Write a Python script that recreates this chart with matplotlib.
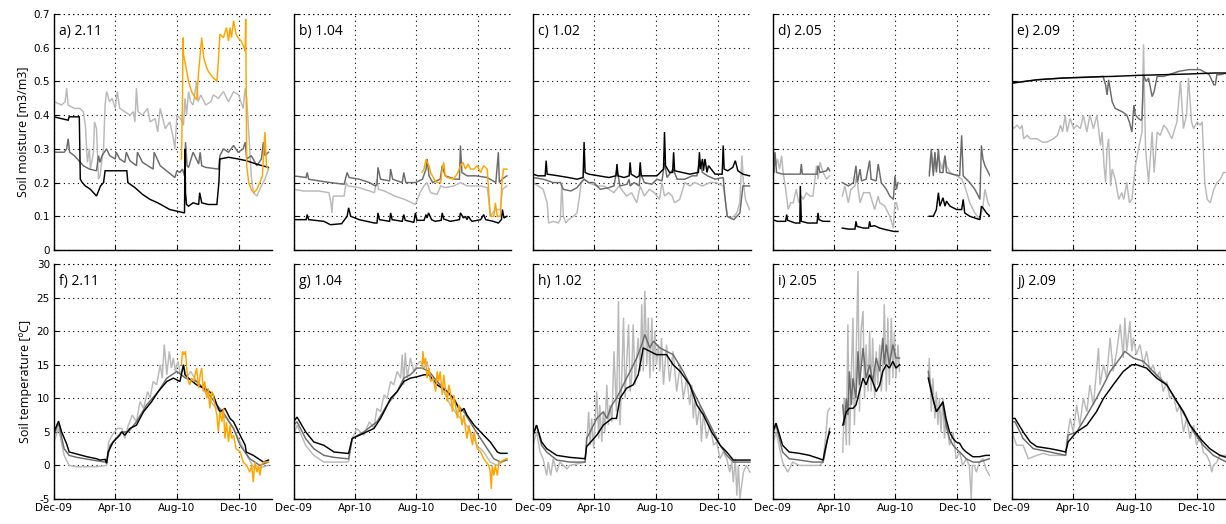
import numpy as np
import matplotlib
matplotlib.use("Agg")
import matplotlib.pyplot as plt

nan = np.nan

# x values are days since 1 Dec 2009
xtick_days = [0, 121, 243, 365]
xtick_labels = ["Dec-09", "Apr-10", "Aug-10", "Dec-10"]
moist_ticks = [0, 0.1, 0.2, 0.3, 0.4, 0.5, 0.6, 0.7]
temp_ticks = [-5, 0, 5, 10, 15, 20, 25, 30]
moist_titles = ["a) 2.11", "b) 1.04", "c) 1.02", "d) 2.05", "e) 2.09"]
temp_titles = ["f) 2.11", "g) 1.04", "h) 1.02", "i) 2.05", "j) 2.09"]

# ---------------- soil moisture ----------------
a_black_d = [0, 28, 30, 50, 52, 56, 62, 72, 84, 92, 98, 101, 144, 146, 160, 175, 190, 205, 229, 258, 259, 260, 262, 266, 275, 286, 288, 292, 305, 322, 326, 328, 345, 364, 380, 400, 424]
a_black_v = [0.395, 0.385, 0.395, 0.395, 0.21, 0.2, 0.19, 0.18, 0.16, 0.19, 0.2, 0.235, 0.235, 0.2, 0.185, 0.165, 0.15, 0.14, 0.12, 0.11, 0.3, 0.17, 0.135, 0.13, 0.14, 0.135, 0.17, 0.14, 0.135, 0.135, 0.2, 0.27, 0.275, 0.27, 0.265, 0.255, 0.245]
a_dgray_d = [0, 20, 25, 28, 31, 40, 58, 70, 84, 88, 91, 95, 104, 110, 121, 123, 130, 140, 143, 150, 163, 165, 175, 196, 198, 210, 239, 243, 249, 254, 258, 260, 263, 266, 275, 286, 289, 292, 300, 325, 328, 335, 345, 355, 364, 374, 378, 381, 390, 401, 410, 414, 417, 424]
a_dgray_v = [0.29, 0.29, 0.3, 0.33, 0.29, 0.28, 0.25, 0.24, 0.235, 0.28, 0.26, 0.28, 0.3, 0.28, 0.27, 0.29, 0.27, 0.26, 0.29, 0.265, 0.25, 0.29, 0.26, 0.24, 0.29, 0.25, 0.215, 0.235, 0.23, 0.24, 0.22, 0.32, 0.25, 0.245, 0.29, 0.255, 0.29, 0.25, 0.245, 0.24, 0.28, 0.3, 0.29, 0.31, 0.29, 0.3, 0.32, 0.27, 0.28, 0.25, 0.27, 0.32, 0.28, 0.29]
a_lgray_d = [0, 15, 22, 25, 28, 40, 51, 58, 62, 66, 70, 72, 78, 80, 84, 88, 91, 94, 98, 101, 104, 110, 115, 121, 125, 130, 140, 150, 157, 160, 163, 166, 175, 185, 190, 200, 205, 210, 220, 229, 236, 239, 243, 250, 256, 259, 262, 266, 270, 275, 282, 285, 290, 300, 310, 315, 325, 335, 345, 355, 365, 374, 378, 381, 385, 390, 394, 401, 410, 417, 424]
a_lgray_v = [0.44, 0.43, 0.44, 0.48, 0.43, 0.42, 0.42, 0.41, 0.37, 0.26, 0.3, 0.24, 0.29, 0.38, 0.36, 0.21, 0.22, 0.26, 0.3, 0.43, 0.47, 0.44, 0.45, 0.42, 0.47, 0.42, 0.41, 0.4, 0.41, 0.38, 0.48, 0.41, 0.4, 0.42, 0.38, 0.39, 0.35, 0.42, 0.36, 0.38, 0.33, 0.30, 0.40, 0.39, 0.37, 0.45, 0.40, 0.47, 0.44, 0.43, 0.50, 0.44, 0.46, 0.43, 0.44, 0.46, 0.45, 0.47, 0.44, 0.47, 0.46, 0.42, 0.48, 0.45, 0.35, 0.22, 0.17, 0.16, 0.19, 0.21, 0.24]
a_orange_d = [252, 254, 255, 256, 260, 266, 272, 276, 282, 286, 289, 292, 296, 302, 305, 310, 315, 320, 322, 325, 328, 335, 341, 345, 348, 351, 355, 360, 364, 370, 376, 378, 379, 381, 385, 390, 395, 401, 407, 412, 417, 420, 424]
a_orange_v = [0.27, 0.45, 0.63, 0.58, 0.55, 0.5, 0.47, 0.46, 0.445, 0.53, 0.58, 0.63, 0.57, 0.54, 0.53, 0.52, 0.51, 0.505, 0.50, 0.56, 0.64, 0.63, 0.66, 0.62, 0.66, 0.63, 0.68, 0.64, 0.63, 0.62, 0.60, 0.59, 0.685, 0.25, 0.2, 0.18, 0.17, 0.18, 0.2, 0.22, 0.35, 0.25, 0.24]

b_black_d = [0, 25, 27, 30, 60, 73, 95, 106, 109, 113, 130, 160, 165, 167, 170, 190, 192, 195, 215, 218, 221, 238, 241, 244, 258, 262, 264, 267, 273, 280, 292, 294, 297, 310, 328, 330, 336, 340, 343, 346, 350, 353, 370, 374, 376, 380, 395, 405, 411, 413, 416, 422]
b_black_v = [0.09, 0.09, 0.105, 0.09, 0.085, 0.075, 0.078, 0.1, 0.125, 0.1, 0.09, 0.08, 0.08, 0.11, 0.09, 0.085, 0.11, 0.09, 0.085, 0.105, 0.088, 0.082, 0.11, 0.088, 0.088, 0.105, 0.095, 0.11, 0.09, 0.085, 0.088, 0.11, 0.092, 0.085, 0.09, 0.11, 0.095, 0.1, 0.09, 0.1, 0.09, 0.085, 0.09, 0.1, 0.105, 0.09, 0.085, 0.08, 0.09, 0.12, 0.095, 0.1]
b_dgray_d = [0, 25, 27, 30, 50, 73, 100, 106, 110, 130, 150, 162, 165, 167, 172, 190, 192, 196, 215, 218, 222, 241, 255, 262, 264, 268, 275, 290, 294, 300, 320, 328, 330, 333, 343, 360, 383, 400, 405, 407, 412, 422]
b_dgray_v = [0.22, 0.215, 0.23, 0.21, 0.205, 0.2, 0.195, 0.23, 0.215, 0.21, 0.2, 0.19, 0.195, 0.245, 0.21, 0.205, 0.24, 0.21, 0.2, 0.23, 0.2, 0.2, 0.21, 0.24, 0.27, 0.22, 0.2, 0.21, 0.25, 0.22, 0.21, 0.21, 0.31, 0.23, 0.22, 0.22, 0.215, 0.2, 0.29, 0.2, 0.21, 0.22]
b_lgray_d = [0, 20, 50, 70, 74, 76, 78, 80, 100, 104, 108, 130, 160, 165, 168, 180, 200, 220, 241, 250, 258, 264, 271, 284, 291, 300, 317, 330, 343, 357, 370, 383, 386, 389, 399, 409, 413, 422]
b_lgray_v = [0.18, 0.175, 0.175, 0.17, 0.14, 0.11, 0.155, 0.16, 0.16, 0.2, 0.19, 0.185, 0.17, 0.21, 0.18, 0.175, 0.16, 0.15, 0.135, 0.17, 0.19, 0.2, 0.17, 0.165, 0.19, 0.185, 0.19, 0.2, 0.19, 0.19, 0.19, 0.185, 0.15, 0.1, 0.12, 0.12, 0.18, 0.19]
b_orange_d = [254, 258, 262, 264, 268, 271, 278, 284, 291, 294, 297, 300, 304, 317, 325, 330, 335, 340, 345, 350, 357, 363, 370, 373, 376, 383, 386, 389, 396, 399, 403, 409, 412, 415, 422]
b_orange_v = [0.23, 0.24, 0.27, 0.26, 0.25, 0.23, 0.21, 0.2, 0.2, 0.24, 0.26, 0.22, 0.215, 0.21, 0.23, 0.25, 0.26, 0.24, 0.255, 0.24, 0.24, 0.25, 0.23, 0.24, 0.25, 0.24, 0.17, 0.1, 0.1, 0.14, 0.1, 0.1, 0.2, 0.24, 0.24]

c_black_d = [0, 10, 24, 26, 28, 50, 70, 87, 99, 101, 103, 110, 130, 150, 164, 166, 168, 180, 190, 192, 194, 205, 210, 212, 214, 230, 245, 258, 260, 262, 270, 276, 278, 280, 295, 310, 327, 329, 331, 335, 337, 340, 344, 347, 360, 374, 376, 378, 385, 395, 400, 405, 415, 428]
c_black_v = [0.225, 0.22, 0.22, 0.265, 0.225, 0.22, 0.215, 0.21, 0.215, 0.32, 0.23, 0.225, 0.22, 0.215, 0.22, 0.255, 0.22, 0.215, 0.22, 0.26, 0.225, 0.215, 0.22, 0.26, 0.22, 0.22, 0.22, 0.24, 0.35, 0.25, 0.23, 0.23, 0.29, 0.235, 0.23, 0.225, 0.23, 0.29, 0.24, 0.27, 0.235, 0.27, 0.23, 0.25, 0.225, 0.225, 0.31, 0.24, 0.235, 0.245, 0.265, 0.235, 0.225, 0.22]
c_dgray_d = [0, 20, 40, 54, 60, 75, 87, 95, 101, 110, 120, 133, 150, 160, 166, 172, 186, 190, 192, 200, 210, 212, 220, 235, 245, 255, 260, 265, 277, 285, 300, 315, 324, 329, 335, 345, 360, 376, 380, 384, 390, 397, 403, 409, 415, 428]
c_dgray_v = [0.215, 0.21, 0.2, 0.2, 0.18, 0.175, 0.185, 0.2, 0.21, 0.2, 0.2, 0.18, 0.185, 0.19, 0.24, 0.19, 0.195, 0.21, 0.19, 0.2, 0.19, 0.23, 0.2, 0.195, 0.21, 0.205, 0.26, 0.215, 0.24, 0.21, 0.21, 0.22, 0.22, 0.27, 0.23, 0.22, 0.21, 0.215, 0.15, 0.1, 0.095, 0.09, 0.1, 0.11, 0.19, 0.19]
c_lgray_d = [0, 10, 20, 28, 31, 40, 50, 54, 57, 60, 65, 70, 80, 87, 92, 95, 101, 110, 125, 140, 150, 160, 170, 185, 195, 205, 212, 220, 230, 240, 250, 255, 260, 268, 275, 280, 290, 300, 310, 320, 335, 350, 363, 376, 380, 384, 390, 397, 403, 409, 413, 416, 420, 428]
c_lgray_v = [0.2, 0.19, 0.18, 0.14, 0.08, 0.085, 0.08, 0.09, 0.2, 0.1, 0.08, 0.09, 0.1, 0.11, 0.16, 0.2, 0.21, 0.2, 0.19, 0.19, 0.18, 0.17, 0.19, 0.16, 0.17, 0.14, 0.19, 0.16, 0.18, 0.17, 0.15, 0.2, 0.16, 0.17, 0.16, 0.14, 0.15, 0.2, 0.19, 0.2, 0.19, 0.2, 0.2, 0.19, 0.15, 0.1, 0.095, 0.1, 0.11, 0.14, 0.28, 0.2, 0.15, 0.12]

d_black_d = [0, 10, 26, 28, 30, 45, 54, 55, 57, 70, 88, 90, 92, 100, 113, nan, 138, 150, 163, 165, 167, 180, 190, 192, 194, 202, 212, 225, 240, 248, nan, 310, 318, 324, 328, 331, 337, 341, 344, 351, 364, 374, 377, 380, 390, 400, 410, 413, 416, 423, 430]
d_black_v = [0.09, 0.085, 0.085, 0.105, 0.088, 0.08, 0.08, 0.19, 0.085, 0.08, 0.08, 0.11, 0.09, 0.085, 0.085, nan, 0.065, 0.062, 0.062, 0.085, 0.07, 0.065, 0.065, 0.085, 0.07, 0.072, 0.065, 0.06, 0.055, 0.055, nan, 0.1, 0.1, 0.12, 0.17, 0.13, 0.155, 0.13, 0.145, 0.13, 0.12, 0.12, 0.15, 0.11, 0.1, 0.095, 0.09, 0.13, 0.125, 0.11, 0.1]
d_dgray_d = [0, 3, 5, 8, 20, 55, 57, 59, 88, 90, 94, 107, 110, 113, nan, 138, 150, 160, 165, 168, 173, 176, 185, 192, 195, 205, 209, 215, 225, 232, 239, 242, 245, 248, nan, 310, 314, 318, 321, 324, 328, 331, 337, 341, 344, 355, 370, 374, 377, 380, 390, 400, 407, 410, 413, 416, 420, 430]
d_dgray_v = [0.23, 0.23, 0.29, 0.23, 0.225, 0.225, 0.255, 0.225, 0.225, 0.25, 0.23, 0.235, 0.245, 0.235, nan, 0.2, 0.19, 0.2, 0.25, 0.2, 0.24, 0.205, 0.21, 0.265, 0.21, 0.205, 0.255, 0.2, 0.18, 0.16, 0.15, 0.22, 0.18, 0.2, nan, 0.22, 0.3, 0.22, 0.29, 0.23, 0.3, 0.23, 0.23, 0.28, 0.23, 0.225, 0.22, 0.34, 0.22, 0.215, 0.2, 0.18, 0.16, 0.15, 0.31, 0.27, 0.25, 0.22]
d_lgray_d = [0, 2, 4, 6, 10, 14, 18, 21, 26, 31, 36, 41, 47, 52, 57, 61, 67, 74, 80, 87, 90, 94, 100, 107, 113, nan, 138, 143, 150, 155, 163, 166, 173, 180, 192, 202, 209, 212, 222, 232, 236, 239, 242, 245, 248, nan, 310, 313, 318, 321, 324, 328, 335, 341, 344, 351, 364, 374, 380, 390, 400, 405, 410, 416, 420, 426, 430]
d_lgray_v = [0.28, 0.24, 0.29, 0.25, 0.27, 0.24, 0.28, 0.23, 0.18, 0.12, 0.14, 0.14, 0.18, 0.14, 0.16, 0.15, 0.17, 0.16, 0.16, 0.25, 0.21, 0.26, 0.23, 0.21, 0.22, nan, 0.16, 0.19, 0.14, 0.18, 0.19, 0.22, 0.14, 0.17, 0.17, 0.12, 0.16, 0.14, 0.13, 0.1, 0.08, 0.065, 0.14, 0.14, 0.12, nan, 0.23, 0.28, 0.23, 0.29, 0.24, 0.28, 0.24, 0.28, 0.25, 0.23, 0.22, 0.21, 0.19, 0.14, 0.11, 0.1, 0.09, 0.13, 0.18, 0.14, 0.13]

e_black_d = [0, 50, 100, 150, 200, 250, 300, 350, 400, 430]
e_black_v = [0.495, 0.505, 0.51, 0.513, 0.515, 0.518, 0.52, 0.522, 0.525, 0.525]
e_dgray_d = [0, 50, 100, 150, 180, 185, 188, 191, 198, 204, 211, 218, 227, 232, 237, 241, 244, 250, 255, 257, 260, 265, 270, 277, 281, 287, 300, 330, 350, 372, 390, 399, 402, 405, 412, 425]
e_dgray_v = [0.495, 0.505, 0.51, 0.512, 0.515, 0.49, 0.46, 0.505, 0.44, 0.42, 0.415, 0.41, 0.40, 0.38, 0.35, 0.43, 0.40, 0.39, 0.385, 0.39, 0.52, 0.5, 0.51, 0.455, 0.47, 0.515, 0.515, 0.53, 0.535, 0.535, 0.52, 0.49, 0.49, 0.52, 0.52, 0.525]
e_lgray_d = [0, 3, 10, 16, 20, 23, 30, 36, 49, 60, 69, 82, 90, 96, 100, 105, 109, 115, 122, 128, 135, 141, 148, 154, 161, 168, 175, 178, 182, 185, 188, 191, 195, 198, 204, 211, 217, 221, 227, 232, 237, 244, 250, 257, 260, 264, 270, 277, 281, 287, 293, 300, 306, 316, 326, 333, 339, 345, 349, 355, 359, 366, 372, 376, 381, 386, 392, 399, 405, 412, 418, 425]
e_lgray_v = [0.37, 0.36, 0.37, 0.36, 0.37, 0.33, 0.34, 0.33, 0.33, 0.32, 0.32, 0.33, 0.34, 0.37, 0.35, 0.4, 0.35, 0.39, 0.36, 0.37, 0.36, 0.4, 0.35, 0.4, 0.36, 0.4, 0.31, 0.35, 0.25, 0.2, 0.3, 0.33, 0.19, 0.24, 0.21, 0.15, 0.17, 0.15, 0.2, 0.14, 0.15, 0.25, 0.3, 0.35, 0.61, 0.3, 0.2, 0.35, 0.23, 0.35, 0.34, 0.37, 0.36, 0.33, 0.38, 0.5, 0.36, 0.4, 0.51, 0.38, 0.36, 0.38, 0.37, 0.38, 0.2, 0.15, 0.14, 0.18, 0.2, 0.21, 0.23, 0.23]

# ---------------- soil temperature ----------------
f_black_d = [0, 9, 15, 25, 30, 40, 65, 84, 91, 101, 104, 107, 117, 130, 134, 140, 150, 163, 177, 193, 206, 223, 236, 249, 256, 259, 266, 282, 302, 315, 322, 328, 338, 348, 355, 368, 378, 380, 394, 414, 424]
f_black_v = [5, 6.6, 5, 3.2, 2, 1.8, 1.3, 1.0, 0.8, 0.9, 0.3, 2, 3.5, 4.5, 5, 4.5, 5.5, 6, 8, 9.5, 11, 12.5, 13, 12.5, 15, 13.5, 13, 12, 11.3, 10.5, 9, 8, 8.5, 7, 6.5, 4.5, 3, 2, 1.5, 0.5, 0.8]
f_dgray_d = [0, 9, 20, 30, 45, 84, 101, 104, 111, 134, 147, 163, 183, 206, 223, 243, 252, 260, 282, 302, 322, 338, 355, 368, 387, 407, 424]
f_dgray_v = [4.5, 6.3, 2.5, 1.5, 1.2, 0.7, 0.5, 0.5, 3, 5, 5, 6.5, 9, 11, 13, 14, 13.5, 13, 12.5, 11, 9, 7.5, 5.5, 3, 1, 0, 0.5]
f_lgray_d = [0, 9, 20, 30, 45, 84, 104, 108, 115, 125, 134, 140, 147, 155, 163, 170, 177, 185, 190, 196, 203, 210, 214, 218, 223, 228, 232, 236, 240, 245, 250, 256, 262, 270, 282, 295, 302, 315, 328, 341, 355, 368, 381, 394, 401, 424]
f_lgray_v = [3.5, 5.5, 1.5, 0, -0.2, -0.2, 0, 3.5, 4.5, 5.5, 5.5, 4, 6, 7.5, 6.5, 9.5, 8.5, 11, 10, 12.5, 12, 15, 13, 18, 13.5, 17, 14.5, 16, 14, 15.5, 13.5, 15, 13, 14, 12.5, 11.5, 10.5, 9, 8, 7, 5.5, 3.5, 1.5, -0.2, -0.5, 0]
f_orange_d = [252, 254, 257, 260, 264, 268, 272, 276, 282, 286, 289, 292, 295, 298, 302, 305, 308, 312, 315, 318, 322, 325, 328, 332, 335, 338, 341, 345, 348, 351, 355, 360, 368, 374, 381, 387, 391, 394, 397, 401, 404, 407, 410, 414, 418, 424]
f_orange_v = [15, 17, 16.5, 17, 13, 12, 13, 12.5, 14.5, 11.5, 13.5, 14.5, 11, 12.5, 10, 11.5, 8.5, 11, 10.5, 9, 7.5, 5, 8, 6.5, 8.5, 4, 6.5, 3.5, 6, 4, 4.5, 2.5, 2, 0.5, 0, -1, 0, -2.5, 0.5, -1, 0, -1.5, 0, 0.5, 0.5, 0.5]

g_black_d = [0, 7, 24, 40, 60, 80, 106, 109, 116, 139, 159, 172, 179, 192, 205, 218, 231, 244, 258, 268, 284, 304, 317, 330, 337, 343, 357, 376, 389, 403, 409, 422]
g_black_v = [6.5, 7.2, 5, 3.5, 3, 2, 1.8, 1.8, 4, 4.8, 5.5, 7, 8, 10, 11, 12.5, 13, 13.2, 13.5, 13.5, 12, 11, 10, 8, 8.5, 7.5, 6, 4.5, 3.5, 2, 1.8, 1.8]
g_dgray_d = [0, 7, 24, 40, 60, 80, 106, 109, 116, 139, 165, 185, 205, 218, 231, 244, 254, 268, 284, 304, 324, 337, 357, 370, 383, 396, 409, 422]
g_dgray_v = [6, 6.5, 4, 2.5, 1.5, 1.2, 1, 1, 4, 5, 6.5, 9, 11, 13, 13.5, 14.5, 14.5, 14, 12.5, 11, 9, 8, 5.5, 4, 2.5, 1, 0.5, 0.8]
g_lgray_d = [0, 7, 24, 40, 60, 80, 106, 109, 116, 125, 139, 150, 159, 165, 172, 179, 185, 192, 198, 205, 212, 215, 218, 221, 225, 231, 238, 244, 251, 258, 264, 271, 284, 297, 310, 324, 337, 350, 363, 376, 389, 403, 422]
g_lgray_v = [4.5, 6, 3, 1.5, 0.5, 0.5, 0.5, 0.6, 4, 5.5, 4.5, 6.5, 5.5, 8.5, 8, 10.5, 10, 12.5, 12, 14, 13, 16.5, 12, 16.8, 13, 16, 14, 15, 15.5, 14.5, 15.5, 13, 12.5, 11, 9, 7.5, 6.5, 5, 3, 2, 0.5, 0, 1]
g_orange_d = [254, 256, 258, 261, 264, 268, 271, 276, 281, 284, 287, 290, 294, 297, 300, 304, 307, 310, 314, 317, 320, 324, 327, 330, 333, 337, 340, 343, 347, 350, 354, 357, 363, 370, 376, 381, 386, 389, 391, 393, 396, 399, 403, 406, 409, 415, 422]
g_orange_v = [14.5, 17, 15, 16, 13, 14.5, 12.5, 13, 11, 14, 12.5, 14, 10.5, 13.5, 11.5, 9.5, 12, 11, 8, 10.5, 9, 7, 9, 8, 6, 7.5, 5.5, 4, 6, 4.5, 3, 5, 2.5, 2, 1, 0.5, 0, -1, -3.5, 0, -1.5, 0, -1.5, 0.5, 0.5, 0.8, 1]

h_black_d = [0, 7, 17, 27, 47, 73, 103, 106, 126, 139, 156, 165, 172, 185, 198, 208, 218, 231, 244, 264, 277, 291, 310, 324, 337, 353, 370, 383, 396, 429]
h_black_v = [4.5, 6, 3.5, 2.5, 1.5, 1.2, 1, 2.8, 4.5, 6, 7, 7, 10, 11.5, 12, 13.5, 17.5, 17, 16.5, 16.5, 15, 14, 12, 9, 7.5, 5, 3, 2, 0.8, 0.8]
h_dgray_d = [0, 7, 17, 27, 47, 73, 103, 106, 113, 126, 139, 146, 156, 165, 172, 185, 192, 205, 215, 221, 231, 238, 251, 264, 277, 297, 317, 337, 357, 370, 383, 396, 429]
h_dgray_v = [4.5, 6, 3, 2, 0.8, 0.5, 0.5, 4, 5, 7, 8, 7, 9, 10, 11, 13, 14, 16, 18, 19.5, 17.5, 18.5, 17.5, 17, 16.5, 14, 11, 8, 5, 3, 1.5, 0.5, 0.5]
h_lgray_d = [0, 7, 14, 20, 27, 30, 35, 40, 47, 53, 60, 67, 73, 85, 103, 106, 110, 113, 116, 120, 126, 130, 132, 136, 139, 142, 146, 149, 152, 156, 160, 165, 169, 172, 175, 179, 182, 185, 189, 192, 195, 198, 202, 205, 208, 212, 215, 218, 221, 225, 228, 231, 235, 238, 241, 244, 248, 251, 254, 258, 264, 270, 277, 284, 291, 297, 304, 310, 314, 317, 320, 324, 330, 333, 337, 343, 350, 357, 363, 370, 376, 383, 389, 393, 396, 400, 403, 406, 409, 416, 422, 429]
h_lgray_v = [3, 5, 2, 1, -1.5, 0.5, -1.5, 1, -1, 0.5, 0, -0.5, 0, 0.2, 0.5, 3, 8, 3, 7, 2.5, 11, 4, 9, 3.5, 8, 5, 12, 6, 9, 6.5, 17, 8, 24.5, 6, 12, 22, 10, 15, 21, 11, 13, 21, 12, 16, 19, 14, 24, 14, 26, 15, 22, 13, 22, 14, 20, 15, 18, 14, 19, 12, 18, 12.5, 17, 11, 15, 10, 13, 9, 12, 7, 10, 6, 9, 3.5, 8, 4, 6, 3, 3.5, 1, 2, 1, -1, 0.5, -2.5, 1, -4.5, 0, -5, -1, 0, -1]

i_black_d = [0, 7, 20, 33, 53, 73, 93, 100, 103, 109, 113, nan, 139, 146, 152, 159, 165, 172, 179, 185, 192, 198, 205, 212, 218, 225, 231, 238, 244, 251, nan, 308, 310, 317, 324, 333, 337, 343, 350, 357, 363, 370, 376, 383, 396, 409, 422, 429]
i_black_v = [5, 6.3, 3, 2, 1.8, 1.5, 1, 0.8, 2, 4, 5, nan, 6, 8, 8.5, 8.5, 9, 11, 13, 12, 13.5, 12.5, 11, 12, 14, 15, 14.5, 15.5, 14.5, 15, nan, 13, 12.3, 10, 8, 9, 9.5, 7, 5, 4, 3.5, 3.3, 2.5, 2, 1.3, 1.3, 1.5, 1.5]
i_dgray_d = [0, 7, 20, 33, 53, 80, 100, 103, 109, 113, nan, 139, 142, 146, 149, 152, 156, 159, 165, 169, 172, 179, 185, 192, 198, 205, 212, 218, 221, 225, 231, 238, 244, 251, nan, 308, 310, 317, 324, 333, 337, 343, 350, 357, 363, 370, 383, 396, 409, 429]
i_dgray_v = [4.5, 6, 2, 1, 0.8, 0.5, 0.5, 1.5, 4, 5.5, nan, 9, 6, 10, 7.5, 14, 9, 13, 10, 17, 12, 17.5, 13, 15, 12.5, 16, 14, 19, 15, 18, 15, 18, 16, 16, nan, 14, 13, 10, 8, 9, 9, 6, 4, 3, 2.5, 2, 1, 0.5, 0.5, 1]
i_lgray_d = [0, 7, 20, 30, 40, 53, 73, 93, 100, 106, 109, 113, nan, 139, 142, 146, 149, 152, 156, 159, 162, 165, 169, 172, 175, 179, 182, 185, 189, 192, 195, 198, 202, 205, 208, 212, 215, 218, 221, 225, 228, 231, 235, 238, 241, 244, 248, 251, nan, 308, 310, 314, 317, 321, 324, 327, 330, 333, 337, 340, 343, 350, 357, 363, 370, 376, 383, 389, 393, 395, 399, 403, 409, 416, 422, 429]
i_lgray_v = [3, 5, 0.5, -1, 0.5, 0, 0, 0, 0.5, 5, 8, 8.5, nan, 2, 10, 3, 21, 3, 14, 22, 6, 15, 29, 8, 20, 23, 10, 18, 11, 20, 11, 19, 10, 17, 12, 18, 11, 14, 24, 11, 22, 12, 22, 13, 20, 13, 18, 14, nan, 13, 16, 8, 13, 7, 11, 6, 10, 5, 10, 4, 7, 3, 5, 1, 2, 0, 1, 0, -5, 0, 0, -1, 0.5, 1, -0.5, -1.5]

j_black_d = [0, 6, 22, 36, 49, 75, 95, 106, 111, 128, 148, 167, 181, 200, 220, 237, 246, 266, 286, 306, 326, 339, 352, 372, 391, 411, 424]
j_black_v = [7, 7, 5, 3.5, 2.8, 2.5, 2.2, 2, 3.5, 5, 6, 8, 10, 12, 14, 15, 15, 14.5, 13, 12, 9.5, 8, 6, 4, 2.5, 1.5, 1.2]
j_dgray_d = [0, 6, 22, 42, 75, 106, 111, 128, 148, 167, 181, 194, 214, 223, 240, 260, 279, 306, 326, 345, 359, 378, 398, 424]
j_dgray_v = [6.5, 6.5, 4, 2.5, 2, 1.5, 4.5, 5, 7.5, 10, 12, 14, 16, 17, 16, 15.5, 14, 12, 9.5, 7, 5, 3, 1.5, 0.5]
j_lgray_d = [0, 9, 22, 32, 49, 62, 75, 106, 108, 115, 121, 128, 134, 141, 148, 154, 161, 167, 171, 174, 181, 187, 194, 200, 207, 214, 220, 223, 227, 233, 237, 240, 246, 253, 260, 266, 273, 279, 286, 292, 299, 306, 312, 319, 326, 332, 339, 345, 352, 359, 365, 372, 378, 385, 391, 395, 398, 405, 411, 424]
j_lgray_v = [5, 3, 3, 1, 1.5, 1.8, 1.5, 1.5, 3.5, 7, 5, 9, 6, 10, 8, 12, 9, 14, 17.5, 12, 15, 13, 19, 14, 17, 21, 16, 22, 17, 21.5, 17, 19, 16.5, 18, 15, 17, 14, 15, 13, 14, 11, 12.5, 10, 10.5, 8, 9, 5, 7, 4, 6, 3, 4.5, 2, 1.5, 0.5, -1, 0, 0.5, 1.5, 1.5]

# ---------------- drawing ----------------
C_BLACK = "#000000"
C_DGRAY = "#6b6b6b"
C_LGRAY = "#b9b9b9"
C_ORANGE = "#ffa500"

moist_series = [
    [(a_lgray_d, a_lgray_v, C_LGRAY), (a_dgray_d, a_dgray_v, C_DGRAY), (a_black_d, a_black_v, C_BLACK), (a_orange_d, a_orange_v, C_ORANGE)],
    [(b_lgray_d, b_lgray_v, C_LGRAY), (b_dgray_d, b_dgray_v, C_DGRAY), (b_black_d, b_black_v, C_BLACK), (b_orange_d, b_orange_v, C_ORANGE)],
    [(c_lgray_d, c_lgray_v, C_LGRAY), (c_dgray_d, c_dgray_v, C_DGRAY), (c_black_d, c_black_v, C_BLACK)],
    [(d_lgray_d, d_lgray_v, C_LGRAY), (d_dgray_d, d_dgray_v, C_DGRAY), (d_black_d, d_black_v, C_BLACK)],
    [(e_lgray_d, e_lgray_v, C_LGRAY), (e_dgray_d, e_dgray_v, C_DGRAY), (e_black_d, e_black_v, C_BLACK)],
]
temp_series = [
    [(f_lgray_d, f_lgray_v, C_LGRAY), (f_dgray_d, f_dgray_v, C_DGRAY), (f_black_d, f_black_v, C_BLACK), (f_orange_d, f_orange_v, C_ORANGE)],
    [(g_lgray_d, g_lgray_v, C_LGRAY), (g_dgray_d, g_dgray_v, C_DGRAY), (g_black_d, g_black_v, C_BLACK), (g_orange_d, g_orange_v, C_ORANGE)],
    [(h_lgray_d, h_lgray_v, C_LGRAY), (h_dgray_d, h_dgray_v, C_DGRAY), (h_black_d, h_black_v, C_BLACK)],
    [(i_lgray_d, i_lgray_v, C_LGRAY), (i_dgray_d, i_dgray_v, C_DGRAY), (i_black_d, i_black_v, C_BLACK)],
    [(j_lgray_d, j_lgray_v, C_LGRAY), (j_dgray_d, j_dgray_v, C_DGRAY), (j_black_d, j_black_v, C_BLACK)],
]

W, H = 1226, 524
fig = plt.figure(figsize=(W / 100, H / 100), dpi=100)
lefts = [54, 293.5, 533, 772.5, 1012]
pw = 217.5
rows = [(14, 250), (264, 499)]
TICKFONT = "DejaVu Sans"
LABFONT = "Open Sans"


def style_axis(ax, ylim, yticks, show_y, show_x):
    ax.set_xlim(0, 430)
    ax.set_ylim(*ylim)
    ax.set_xticks(xtick_days)
    ax.set_yticks(yticks)
    for s in ("top", "right"):
        ax.spines[s].set_visible(False)
    for s in ("left", "bottom"):
        ax.spines[s].set_linewidth(1.0)
    ax.tick_params(direction="in", length=3.5, width=0.8, labelsize=7.5, pad=3)
    ax.grid(True, color="black", linestyle=(0, (1, 3.2)), linewidth=0.8)
    ax.axhline(ylim[1], color="black", linestyle=(0, (1, 3.2)), linewidth=0.8, clip_on=False)
    if show_x:
        ax.set_xticklabels(xtick_labels, fontfamily=TICKFONT)
    else:
        ax.set_xticklabels([])
    if show_y:
        ax.set_yticklabels([("%g" % t) for t in yticks], fontfamily=TICKFONT)
    else:
        ax.set_yticklabels([])


for r, (series_set, titles, ylim, yticks) in enumerate([
        (moist_series, moist_titles, (0, 0.7), moist_ticks),
        (temp_series, temp_titles, (-5, 30), temp_ticks)]):
    top, bot = rows[r]
    for c in range(5):
        ax = fig.add_axes([lefts[c] / W, 1 - bot / H, pw / W, (bot - top) / H])
        for d, v, col in series_set[c]:
            ax.plot(d, v, color=col, linewidth=1.05, solid_joinstyle="miter")
        style_axis(ax, ylim, yticks, c == 0, r == 1)
        ax.text(0.025, 0.925, titles[c], transform=ax.transAxes, fontsize=10,
                fontfamily=LABFONT, va="center", ha="left")
        if c == 0:
            ax.set_ylabel("Soil moisture [m3/m3]" if r == 0 else "Soil temperature [\u00baC]",
                          fontsize=9, fontfamily=LABFONT, labelpad=3)

fig.savefig("out.png", dpi=100)
